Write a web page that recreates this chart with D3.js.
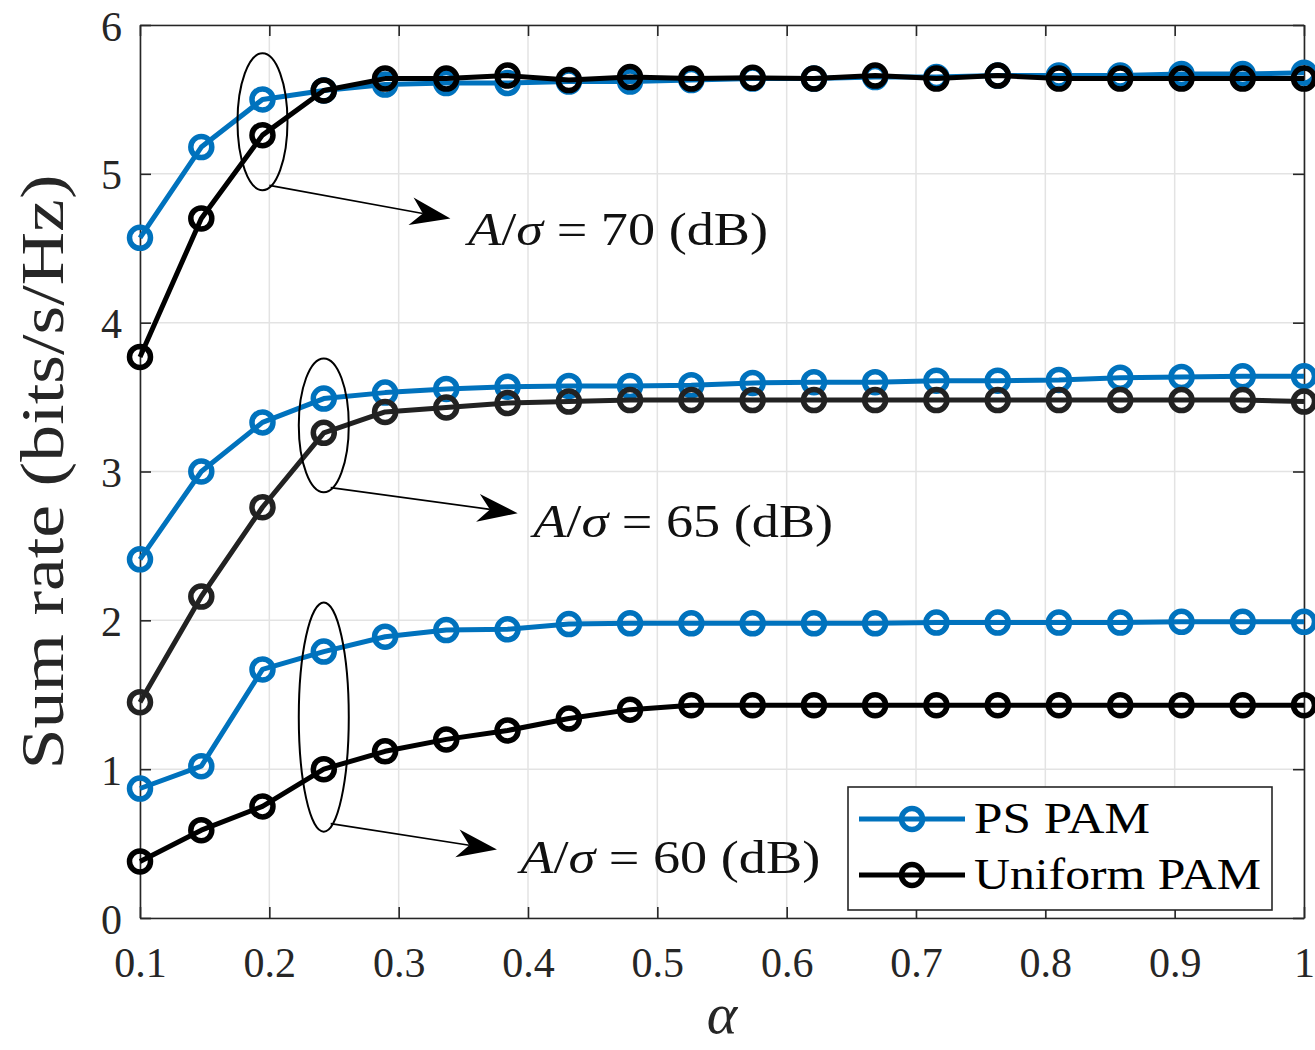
<!DOCTYPE html>
<html>
<head>
<meta charset="utf-8">
<script src="https://cdn.jsdelivr.net/npm/d3@7"></script>
<style>
  html, body { margin: 0; padding: 0; background: #fff; }
  svg { display: block; }
  text { font-family: "Liberation Serif", "Times New Roman", serif; }
</style>
</head>
<body>
<svg id="chart" width="1315" height="1050"></svg>
<script>
// ---- data ----
const alpha = [0.1, 0.1474, 0.1947, 0.2421, 0.2895, 0.3368, 0.3842, 0.4316, 0.4789, 0.5263,
               0.5737, 0.6211, 0.6684, 0.7158, 0.7632, 0.8105, 0.8579, 0.9053, 0.9526, 1.0];

const ps70  = [4.57, 5.18, 5.50, 5.56, 5.60, 5.61, 5.61, 5.62, 5.62, 5.63,
               5.64, 5.64, 5.65, 5.65, 5.66, 5.66, 5.66, 5.67, 5.67, 5.68];
const uni70 = [3.77, 4.70, 5.26, 5.56, 5.64, 5.64, 5.66, 5.63, 5.65, 5.64,
               5.645, 5.64, 5.66, 5.64, 5.66, 5.64, 5.64, 5.64, 5.64, 5.64];

const ps65  = [2.41, 3.00, 3.33, 3.49, 3.53, 3.555, 3.57, 3.575, 3.575, 3.58,
               3.595, 3.60, 3.60, 3.61, 3.61, 3.615, 3.63, 3.635, 3.64, 3.64];
const uni65 = [1.45, 2.16, 2.76, 3.26, 3.40, 3.43, 3.46, 3.47, 3.48, 3.48,
               3.48, 3.48, 3.48, 3.48, 3.48, 3.48, 3.48, 3.48, 3.48, 3.47];

const ps60  = [0.87, 1.02, 1.67, 1.79, 1.89, 1.935, 1.94, 1.975, 1.98, 1.98,
               1.98, 1.98, 1.98, 1.985, 1.985, 1.985, 1.985, 1.99, 1.99, 1.99];
const uni60 = [0.38, 0.59, 0.75, 1.00, 1.12, 1.20, 1.26, 1.34, 1.40, 1.43,
               1.43, 1.43, 1.43, 1.43, 1.43, 1.43, 1.43, 1.43, 1.43, 1.43];

const xTicks = [0.1, 0.2, 0.3, 0.4, 0.5, 0.6, 0.7, 0.8, 0.9, 1.0];
const xTickLabels = ["0.1", "0.2", "0.3", "0.4", "0.5", "0.6", "0.7", "0.8", "0.9", "1"];
const yTicks = [0, 1, 2, 3, 4, 5, 6];
const yTickLabels = ["0", "1", "2", "3", "4", "5", "6"];

const seriesNames = ["PS PAM", "Uniform PAM"];
const annotations = [
  { label: "70", cx: 0.1947, cy: 5.35, ry: 0.46, to: [0.34, 4.7], textAt: [0.3537, 4.52] },
  { label: "65", cx: 0.2421, cy: 3.31, ry: 0.45, to: [0.392, 2.72], textAt: [0.404, 2.56] },
  { label: "60", cx: 0.2421, cy: 1.35, ry: 0.77, to: [0.376, 0.46], textAt: [0.394, 0.30] }
];

// ---- layout ----
const svg = d3.select("#chart");
const L = 140, R = 1304, T = 25, B = 918;
const x = d3.scaleLinear().domain([0.1, 1]).range([L, R]);
const y = d3.scaleLinear().domain([0, 6]).range([B, T]);
const blue = "#0072BD";
const axisCol = "#262626";
const serif = "Liberation Serif, Times New Roman, serif";

// grid
const grid = svg.append("g");
grid.selectAll(".gx").data(xTicks).join("line")
  .attr("x1", d => x(d)).attr("x2", d => x(d)).attr("y1", T).attr("y2", B)
  .attr("stroke", "#e3e3e3").attr("stroke-width", 1.5);
grid.selectAll(".gy").data(yTicks).join("line")
  .attr("y1", d => y(d)).attr("y2", d => y(d)).attr("x1", L).attr("x2", R)
  .attr("stroke", "#e3e3e3").attr("stroke-width", 1.5);

// axes (box with inward ticks)
const tl = 11;
const axB = d3.axisBottom(x).tickValues(xTicks).tickSize(-tl).tickFormat((d, i) => xTickLabels[i]).tickSizeOuter(0);
const axT = d3.axisTop(x).tickValues(xTicks).tickSize(-tl).tickFormat("").tickSizeOuter(0);
const axLf = d3.axisLeft(y).tickValues(yTicks).tickSize(-tl).tickFormat((d, i) => yTickLabels[i]).tickSizeOuter(0);
const axRt = d3.axisRight(y).tickValues(yTicks).tickSize(-tl).tickFormat("").tickSizeOuter(0);

function styleAxis(g) {
  g.attr("font-family", serif);
  g.select(".domain").attr("stroke", axisCol).attr("stroke-width", 1.6);
  g.selectAll(".tick line").attr("stroke", axisCol).attr("stroke-width", 1.6);
  g.selectAll(".tick text").attr("fill", axisCol).attr("font-family", serif).attr("font-size", 42);
}
svg.append("g").attr("transform", `translate(0,${B})`).call(axB).call(styleAxis)
  .selectAll(".tick text").attr("dy", null).attr("y", 59);
svg.append("g").attr("transform", `translate(0,${T})`).call(axT).call(styleAxis);
svg.append("g").attr("transform", `translate(${L},0)`).call(axLf).call(styleAxis)
  .selectAll(".tick text").attr("x", -18).attr("dy", "0.36em");
svg.append("g").attr("transform", `translate(${R},0)`).call(axRt).call(styleAxis);

// series
const line = d3.line().x((d, i) => x(alpha[i])).y(d => y(d));
function drawSeries(vals, color) {
  const g = svg.append("g");
  g.append("path").datum(vals).attr("d", line)
    .attr("fill", "none").attr("stroke", color).attr("stroke-width", 5).attr("stroke-linejoin", "round");
  g.selectAll("circle").data(vals).join("circle")
    .attr("cx", (d, i) => x(alpha[i])).attr("cy", d => y(d)).attr("r", 10.5)
    .attr("fill", "none").attr("stroke", color).attr("stroke-width", 5.5);
}
drawSeries(ps60, blue);
drawSeries(uni60, "#000");
drawSeries(ps65, blue);
drawSeries(uni65, "#222");
drawSeries(ps70, blue);
drawSeries(uni70, "#000");

// annotations
const ann = svg.append("g");
annotations.forEach(a => {
  const cx = x(a.cx), cy = y(a.cy);
  const ry = y(0) - y(a.ry), rx = 25;
  ann.append("ellipse").attr("cx", cx).attr("cy", cy).attr("rx", rx).attr("ry", ry)
    .attr("fill", "none").attr("stroke", "#000").attr("stroke-width", 2);
  const ang = Math.PI * 0.38;
  const sx = cx + rx * Math.cos(ang) * 0.75, sy = cy + ry * Math.sin(ang);
  const tx = x(a.to[0]), ty = y(a.to[1]);
  const dx = tx - sx, dy = ty - sy, len = Math.hypot(dx, dy);
  const ux = dx / len, uy = dy / len, px = -uy, py = ux;
  const hl = 40, hw = 14, notch = 28;
  ann.append("line").attr("x1", sx).attr("y1", sy)
    .attr("x2", tx - ux * notch).attr("y2", ty - uy * notch)
    .attr("stroke", "#000").attr("stroke-width", 1.6);
  const pts = [
    [tx, ty],
    [tx - ux * hl + px * hw, ty - uy * hl + py * hw],
    [tx - ux * notch, ty - uy * notch],
    [tx - ux * hl - px * hw, ty - uy * hl - py * hw]
  ];
  ann.append("path").attr("d", "M" + pts.map(p => p.join(",")).join("L") + "Z").attr("fill", "#000");
  const t = ann.append("text").attr("x", x(a.textAt[0])).attr("y", y(a.textAt[1]))
    .attr("font-family", serif).attr("font-size", 47).attr("fill", "#111")
    .attr("textLength", 300).attr("lengthAdjust", "spacingAndGlyphs");
  t.append("tspan").attr("font-style", "italic").text("A");
  t.append("tspan").text("/");
  t.append("tspan").attr("font-style", "italic").text("σ");
  t.append("tspan").text(" = " + a.label + " (dB)");
});

// axis labels
svg.append("text").attr("x", x(0.55)).attr("y", 1033).attr("text-anchor", "middle")
  .attr("font-family", serif).attr("font-size", 58).attr("font-style", "italic")
  .attr("fill", axisCol).text("α");
svg.append("text").attr("transform", "translate(63,472) rotate(-90)").attr("text-anchor", "middle")
  .attr("font-family", serif).attr("font-size", 62).attr("fill", axisCol)
  .attr("textLength", 595).attr("lengthAdjust", "spacingAndGlyphs")
  .text("Sum rate (bits/s/Hz)");

// legend
const lg = svg.append("g");
lg.append("rect").attr("x", 848).attr("y", 787).attr("width", 424).attr("height", 123)
  .attr("fill", "#fff").attr("stroke", axisCol).attr("stroke-width", 1.6);
const legendColors = [blue, "#000"];
seriesNames.forEach((name, i) => {
  const ly = 819 + i * 56;
  lg.append("line").attr("x1", 859).attr("x2", 965).attr("y1", ly).attr("y2", ly)
    .attr("stroke", legendColors[i]).attr("stroke-width", 5);
  lg.append("circle").attr("cx", 912).attr("cy", ly).attr("r", 10.5)
    .attr("fill", "none").attr("stroke", legendColors[i]).attr("stroke-width", 5.5);
  lg.append("text").attr("x", 974).attr("y", ly + 14)
    .attr("font-family", serif).attr("font-size", 45).attr("fill", "#000")
    .attr("textLength", i === 0 ? 176 : 287).attr("lengthAdjust", "spacingAndGlyphs")
    .text(name);
});
</script>
</body>
</html>
